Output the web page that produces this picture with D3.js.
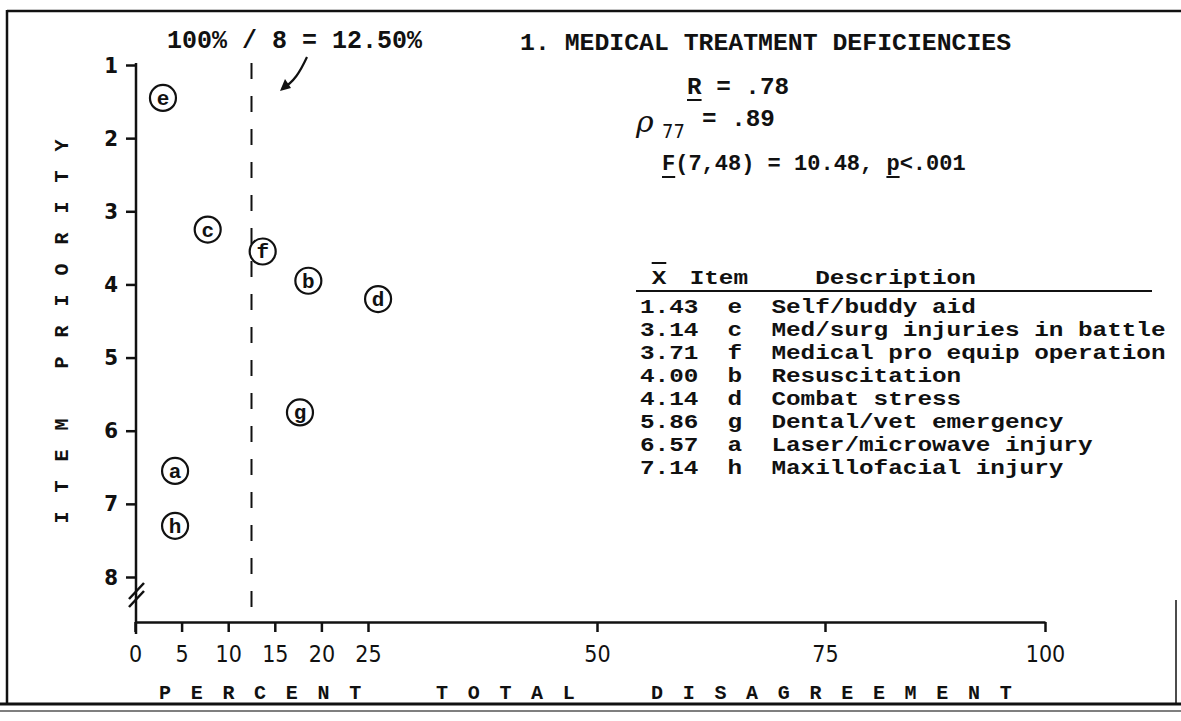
<!DOCTYPE html>
<html><head><meta charset="utf-8">
<script src="https://cdn.jsdelivr.net/npm/d3@7"></script>
<style>body{margin:0;background:#fff}svg{display:block}</style>
</head><body><svg id="c" width="1181" height="721"></svg>
<script>
// ---- data ----
const items = ["e","c","f","b","d","g","a","h"];
const pctDisagree = [3.0, 7.8, 13.7, 18.6, 26.1, 17.7, 4.3, 4.3];
const priority = [1.45, 3.25, 3.55, 3.95, 4.2, 5.75, 6.55, 7.3];
const tableMeans = ["1.43","3.14","3.71","4.00","4.14","5.86","6.57","7.14"];
const tableItems = ["e","c","f","b","d","g","a","h"];
const tableDesc = ["Self/buddy aid","Med/surg injuries in battle","Medical pro equip operation",
  "Resuscitation","Combat stress","Dental/vet emergency","Laser/microwave injury","Maxillofacial injury"];
const xTicks = [0,5,10,15,20,25,50,75,100];
const yTicks = [1,2,3,4,5,6,7,8];
const chanceLine = 12.5;
const title = "1. MEDICAL TREATMENT DEFICIENCIES";
const chanceNote = "100% / 8 = 12.50%";

// ---- layout ----
const svg = d3.select("#c");
const ink = "#111";
const mono = "'Liberation Mono','DejaVu Sans Mono',monospace";
const narrow = "'DejaVu Sans Condensed','Liberation Sans Narrow','DejaVu Sans',sans-serif";
const axisY = 622, axisX = 136;
const x = d3.scaleLinear().domain([0,25,50,75,100]).range([135,368,597,825,1045]);
const y = d3.scaleLinear().domain([1,8]).range([65,577]);

function mtext(px, py, str, size, sx){
  const t = svg.append("text").attr("font-family",mono).attr("font-weight","bold")
    .attr("font-size",size).attr("fill",ink).text(str);
  if (sx && sx !== 1) t.attr("transform",`translate(${px},${py}) scale(${sx},1)`);
  else t.attr("x",px).attr("y",py);
  return t;
}

// frame
svg.append("line").attr("x1",7).attr("x2",1181).attr("y1",11).attr("y2",11).attr("stroke",ink).attr("stroke-width",2.5);
svg.append("line").attr("x1",7).attr("x2",7).attr("y1",10).attr("y2",705).attr("stroke",ink).attr("stroke-width",2.5);
svg.append("line").attr("x1",0).attr("x2",1181).attr("y1",704).attr("y2",704).attr("stroke",ink).attr("stroke-width",3);
svg.append("line").attr("x1",0).attr("x2",1181).attr("y1",711).attr("y2",711).attr("stroke","#555").attr("stroke-width",1.5);
svg.append("line").attr("x1",1176).attr("x2",1176).attr("y1",600).attr("y2",704).attr("stroke",ink).attr("stroke-width",1.5);

// x axis
const gx = svg.append("g").attr("transform",`translate(0,${axisY})`)
  .call(d3.axisBottom(x).tickValues(xTicks).tickSize(10).tickSizeOuter(0).tickPadding(14).tickFormat(d=>d));
gx.select(".domain").attr("stroke",ink).attr("stroke-width",2.5);
gx.selectAll(".tick line").attr("stroke",ink).attr("stroke-width",2.5);
gx.selectAll(".tick text").attr("fill",ink).attr("font-family",narrow).attr("font-size",23);

// y axis
const gy = svg.append("g").attr("transform",`translate(${axisX},0)`)
  .call(d3.axisLeft(y).tickValues(yTicks).tickSize(10).tickSizeOuter(0).tickPadding(8).tickFormat(d=>d));
gy.select(".domain").remove();
gy.selectAll(".tick line").attr("stroke",ink).attr("stroke-width",2.5);
gy.selectAll(".tick text").attr("fill",ink).attr("font-family",narrow).attr("font-weight","bold").attr("font-size",22);
svg.append("line").attr("x1",axisX).attr("x2",axisX).attr("y1",y(1)-2).attr("y2",axisY+12).attr("stroke",ink).attr("stroke-width",2.5);
// axis break marks
[0,8].forEach(o=>svg.append("line").attr("x1",axisX-7).attr("x2",axisX+8).attr("y1",y(8)+22+o).attr("y2",y(8)+6+o).attr("stroke",ink).attr("stroke-width",2.5));

// chance line
svg.append("line").attr("x1",x(chanceLine)).attr("x2",x(chanceLine)).attr("y1",y(1)-2).attr("y2",axisY)
  .attr("stroke",ink).attr("stroke-width",2).attr("stroke-dasharray","16,17");
mtext(167, 48, chanceNote, 25);
svg.append("path").attr("d","M307,57 C300,72 294,82 282,89").attr("fill","none").attr("stroke",ink).attr("stroke-width",2.2);
svg.append("path").attr("d","M280,91 L285,79 L291,88 Z").attr("fill",ink);

// points
const pts = svg.append("g").selectAll("g").data(items).join("g")
  .attr("transform",(d,i)=>`translate(${x(pctDisagree[i])},${y(priority[i])})`);
pts.append("circle").attr("r",13).attr("fill","#fff").attr("stroke",ink).attr("stroke-width",2.2);
pts.append("text").attr("text-anchor","middle").attr("dy","0.33em").attr("font-family",mono).attr("font-weight","bold").attr("font-size",21).attr("fill",ink).text(d=>d);

// axis titles
svg.append("text").attr("transform","translate(68,322) rotate(-90)").attr("text-anchor","middle")
  .attr("font-family",mono).attr("font-weight","bold").attr("font-size",20).attr("letter-spacing",19).attr("fill",ink).text("ITEM PRIORITY");
[["PERCENT",159],["TOTAL",436],["DISAGREEMENT",651]].forEach(([t,px])=>
  svg.append("text").attr("x",px).attr("y",699).attr("font-family",mono).attr("font-weight","bold").attr("font-size",20).attr("letter-spacing",19.7).attr("fill",ink).text(t));

// stats block
mtext(520, 50, title, 24.8);
const rx = 687, rfs = 24.3;
mtext(rx, 94, "R = .78", rfs);
svg.append("line").attr("x1",rx).attr("x2",rx+0.6*rfs).attr("y1",100).attr("y2",100).attr("stroke",ink).attr("stroke-width",2);
svg.append("text").attr("x",636).attr("y",132).attr("font-family","'DejaVu Serif',serif").attr("font-style","italic").attr("font-size",30).attr("fill",ink).text("ρ");
svg.append("text").attr("x",662).attr("y",138).attr("font-family",narrow).attr("font-size",20).attr("fill",ink).text("77");
mtext(702, 126, "= .89", rfs);
const fx = 662, ffs = 22, fsx = 1.0, fa = 0.6*ffs*fsx;
mtext(fx, 170, "F(7,48) = 10.48, p<.001", ffs);
svg.append("line").attr("x1",fx).attr("x2",fx+fa).attr("y1",177).attr("y2",177).attr("stroke",ink).attr("stroke-width",2);
svg.append("line").attr("x1",fx+17*fa).attr("x2",fx+18*fa).attr("y1",177).attr("y2",177).attr("stroke",ink).attr("stroke-width",2);

// table
const tx = 640, pitch = 14.6, tfs = 20, tsx = pitch/(0.6*tfs);
mtext(tx+0.8*pitch, 284, "X", tfs, tsx);
svg.append("line").attr("x1",tx+0.8*pitch).attr("x2",tx+1.8*pitch).attr("y1",263).attr("y2",263).attr("stroke",ink).attr("stroke-width",2);
mtext(tx+3.4*pitch, 284, "Item", tfs, tsx);
mtext(tx+12*pitch, 284, "Description", tfs, tsx);
svg.append("line").attr("x1",tx-4).attr("x2",1152).attr("y1",291).attr("y2",291).attr("stroke",ink).attr("stroke-width",2);
tableMeans.forEach((m,i)=>{
  const by = 313 + 23*i;
  mtext(tx, by, m, tfs, tsx);
  mtext(tx+6*pitch, by, tableItems[i], tfs, tsx);
  mtext(tx+9*pitch, by, tableDesc[i], tfs, tsx);
});
</script></body></html>
